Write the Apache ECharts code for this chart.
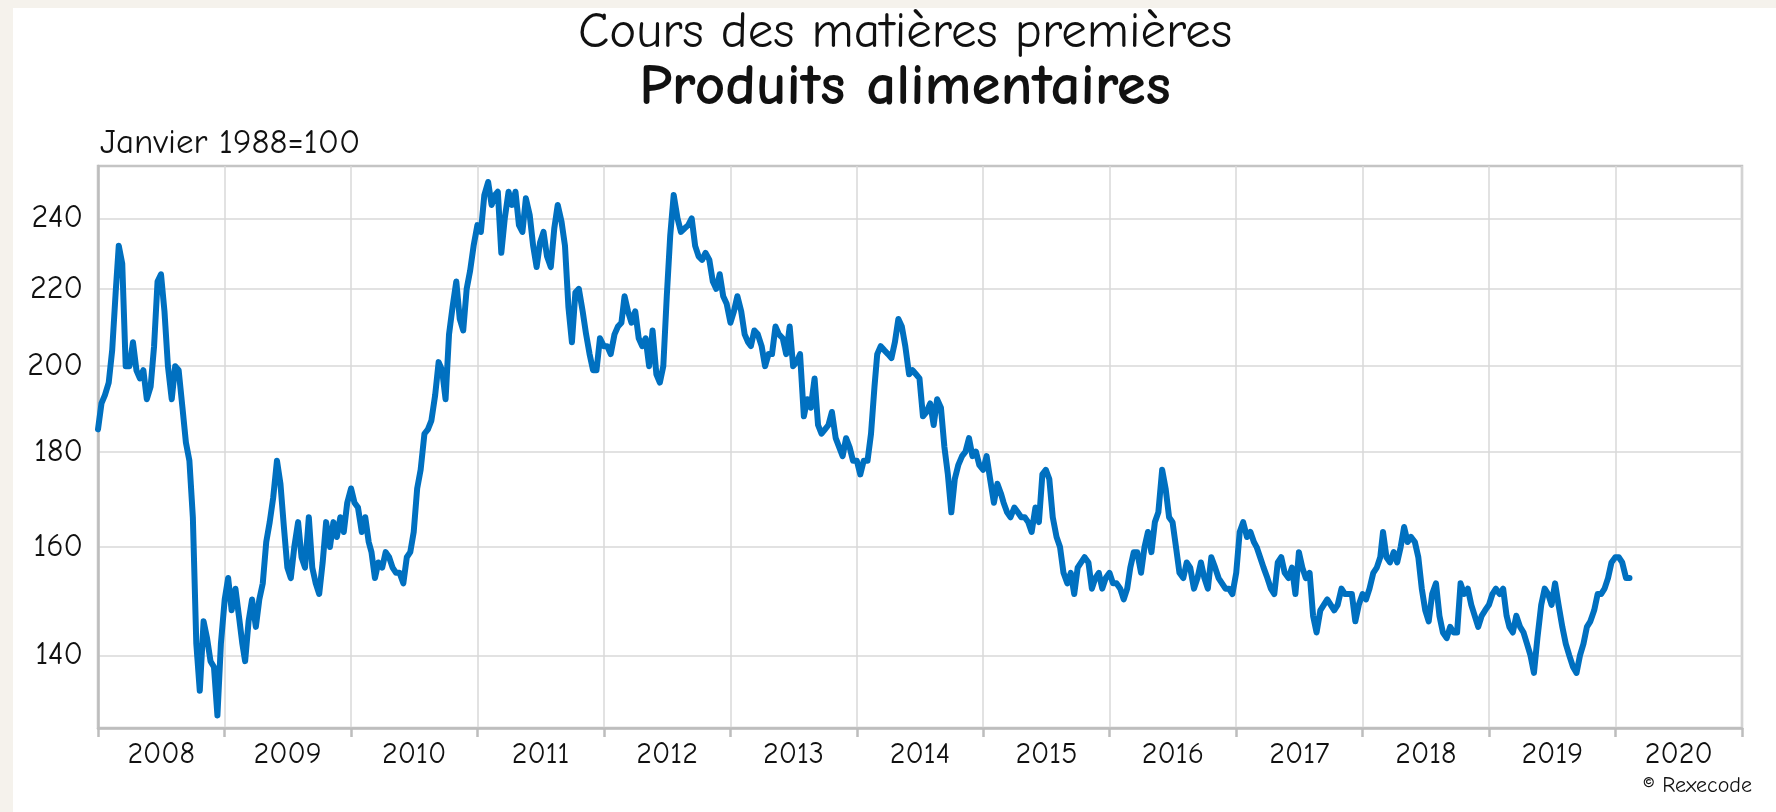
<!DOCTYPE html>
<html><head><meta charset="utf-8">
<script src="https://cdn.jsdelivr.net/npm/echarts@6/dist/echarts.min.js"></script>
<style>
html,body{margin:0;padding:0;background:#f5f2ec;overflow:hidden;}
#panel{position:absolute;left:13px;top:8px;width:1763px;height:804px;background:#fff;}
#chart{position:absolute;left:0;top:0;width:1776px;height:812px;}
</style></head><body>
<div id="panel"></div><div id="chart"></div>
<script>
// Index values sampled on the 1st, 11th and 21st of each month (Janvier 1988 = 100)
const v2008 = [185,191,193,196,204,219,232,227,200,200,206,199,197,199,192,195,205,222,224,214,200,192,200,199,190,182,178,166,142,134,146,143,139,138,130,142];
const v2009 = [150,154,148,152,147,142,139,146,150,145,150,153,161,165,170,178,173,164,156,154,160,165,158,156,166,156,153,151,157,165,160,165,162,166,163,169];
const v2010 = [172,169,168,163,166,161,159,154,157,156,159,158,156,155,155,153,158,159,163,172,176,184,185,187,193,201,199,192,208,215,222,212,209,220,225,232];
const v2011 = [238,236,247,251,244,247,248,230,240,248,244,248,238,236,246,241,232,226,233,236,229,226,237,244,239,232,215,206,219,220,214,208,203,199,199,207];
const v2012 = [205,205,203,208,210,211,218,214,211,214,207,205,207,200,209,198,196,200,218,235,247,240,236,237,238,240,232,229,228,230,228,222,220,224,218,216];
const v2013 = [211,214,218,214,208,206,205,209,208,205,200,203,203,210,208,207,203,210,200,201,203,188,192,190,197,186,184,185,186,189,183,181,179,183,181,178];
const v2014 = [178,175,178,178,184,195,203,205,204,203,202,206,212,210,205,198,199,198,197,188,189,191,186,192,190,181,175,167,174,177,179,180,183,179,180,177];
const v2015 = [176,179,174,169,173,171,169,167,166,168,167,166,166,165,163,168,165,175,176,174,166,162,160,155,153,155,151,156,157,158,157,152,154,155,152,154];
const v2016 = [155,153,153,152,150,152,156,159,159,155,160,163,159,165,167,176,172,166,165,160,155,154,157,156,152,154,157,154,152,158,156,154,153,152,152,151];
const v2017 = [155,163,165,162,163,161,160,158,156,154,152,151,157,158,155,154,156,151,159,156,154,155,147,144,148,149,150,149,148,149,152,151,151,151,146,149];
const v2018 = [151,150,152,155,156,158,163,158,157,159,157,160,164,161,162,161,158,152,148,146,151,153,147,144,143,145,144,144,153,151,152,149,147,145,147,148];
const v2019 = [149,151,152,151,152,147,145,144,147,145,144,142,140,137,143,149,152,151,149,153,149,145,142,140,138,137,140,142,145,146,148,151,151,152,154,157];
const v2020 = [158,158,157,154,154];

const years = [2008,2009,2010,2011,2012,2013,2014,2015,2016,2017,2018,2019,2020];
const yearValues = [v2008,v2009,v2010,v2011,v2012,v2013,v2014,v2015,v2016,v2017,v2018,v2019,v2020];
const monthCodes = ['01','02','03','04','05','06','07','08','09','10','11','12'];
const sampleDays = ['01','11','21'];
const yearLabels = ['2008','2009','2010','2011','2012','2013','2014','2015','2016','2017','2018','2019','2020'];
const yTicks = [140,160,180,200,220,240];

const seriesData = [];
years.forEach((yr, k) => {
  yearValues[k].forEach((v, i) => {
    seriesData.push([yr + '-' + monthCodes[Math.floor(i / 3)] + '-' + sampleDays[i % 3], v]);
  });
});

const FONT = "'Comic Sans MS', 'Comic Neue', 'DejaVu Sans', sans-serif";
const chart = echarts.init(document.getElementById('chart'), null, {renderer: 'canvas'});
chart.setOption({
  animation: false,
  backgroundColor: 'transparent',
  grid: {left: 98, top: 166, width: 1644, height: 562, show: true, borderColor: '#c4c4c4', borderWidth: 2.5, backgroundColor: 'transparent'},
  xAxis: [{
    type: 'time', min: '2008-01-01', max: '2021-01-01', show: false,
    splitLine: {show: false}
  }, {
    type: 'category', data: yearLabels, boundaryGap: true, position: 'bottom',
    axisLine: {show: true, lineStyle: {color: '#bdbdbd', width: 2.5}},
    axisTick: {show: true, length: 9, interval: 0, lineStyle: {color: '#bdbdbd', width: 2.5}},
    axisLabel: {interval: 0, fontSize: 30, color: '#111', fontFamily: FONT, margin: 12},
    splitLine: {show: true, interval: 0, lineStyle: {color: '#d9d9d9', width: 1.5}}
  }],
  yAxis: {
    type: 'log', logBase: 2, min: 128, max: 256,
    axisLine: {show: true, lineStyle: {color: '#bdbdbd', width: 2.5}},
    axisTick: {show: false, customValues: yTicks},
    axisLabel: {customValues: yTicks, fontSize: 32, color: '#111', fontFamily: FONT, margin: 15},
    splitLine: {show: true, lineStyle: {color: '#d9d9d9', width: 1.5}}
  },
  series: [{
    type: 'line', xAxisIndex: 0, data: seriesData, showSymbol: false, symbol: 'none',
    lineStyle: {color: '#0070c0', width: 6, join: 'round', cap: 'round'}
  }],
  graphic: [
    {type: 'text', x: 905, y: 33, style: {text: 'Cours des matières premières', fontSize: 51, fontFamily: FONT, fill: '#111', align: 'center', verticalAlign: 'middle'}},
    {type: 'text', x: 905, y: 87, style: {text: 'Produits alimentaires', fontSize: 59, fontWeight: 'bold', fontFamily: FONT, fill: '#111', align: 'center', verticalAlign: 'middle'}},
    {type: 'text', x: 100, y: 143, style: {text: 'Janvier 1988=100', fontSize: 35, fontFamily: FONT, fill: '#111', align: 'left', verticalAlign: 'middle'}},
    {type: 'text', x: 1752, y: 786, style: {text: '© Rexecode', fontSize: 22, fontFamily: FONT, fill: '#111', align: 'right', verticalAlign: 'middle'}}
  ]
});
</script>
</body></html>
